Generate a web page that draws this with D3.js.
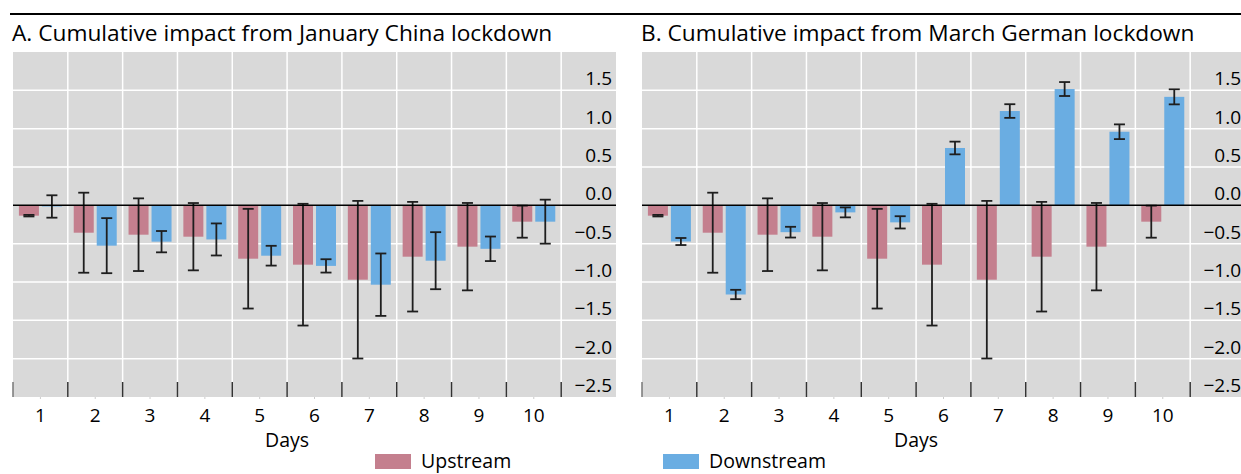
<!DOCTYPE html>
<html>
<head>
<meta charset="utf-8">
<script src="https://cdn.jsdelivr.net/npm/d3@7"></script>
<style>
  html, body { margin: 0; padding: 0; background: #fff; }
  svg { display: block; font-family: "Open Sans", "Noto Sans", sans-serif; }
</style>
</head>
<body>
<svg id="chart" width="1241" height="474"></svg>
<script>
// Days after the lockdown
const days = ["1", "2", "3", "4", "5", "6", "7", "8", "9", "10"];
const yTicks = [1.5, 1.0, 0.5, 0.0, -0.5, -1.0, -1.5, -2.0, -2.5];
const seriesNames = ["Upstream", "Downstream"];

// Panel A: January China lockdown (point estimate and half-width of the interval)
const chinaUpstream      = [-0.135, -0.357, -0.383, -0.409, -0.696, -0.774, -0.970, -0.670, -0.539, -0.213];
const chinaUpstreamErr   = [0.010, 0.522, 0.474, 0.439, 0.650, 0.794, 1.028, 0.715, 0.570, 0.209];
const chinaDownstream    = [-0.015, -0.526, -0.474, -0.445, -0.657, -0.790, -1.035, -0.722, -0.567, -0.213];
const chinaDownstreamErr = [0.146, 0.359, 0.139, 0.209, 0.129, 0.087, 0.407, 0.372, 0.160, 0.287];

// Panel B: March German lockdown
const germanUpstream      = [-0.135, -0.357, -0.383, -0.409, -0.696, -0.774, -0.970, -0.670, -0.539, -0.213];
const germanUpstreamErr   = [0.010, 0.522, 0.474, 0.439, 0.650, 0.794, 1.028, 0.715, 0.570, 0.209];
const germanDownstream    = [-0.472, -1.163, -0.350, -0.092, -0.222, 0.748, 1.230, 1.517, 0.960, 1.415];
const germanDownstreamErr = [0.046, 0.061, 0.070, 0.065, 0.080, 0.083, 0.089, 0.091, 0.096, 0.098];

const colors = { Upstream: "#C47F8E", Downstream: "#6AADE2" };

const svg = d3.select("#chart");

// Rule across the top of the figure
svg.append("line")
  .attr("x1", 10).attr("x2", 1241).attr("y1", 14).attr("y2", 14)
  .attr("stroke", "#000").attr("stroke-width", 2);

const panelTop = 52, panelBottom = 397, panelWidth = 603;

function drawPanel(x0, title, upVals, upErr, downVals, downErr) {
  const g = svg.append("g");
  const x1 = x0 + panelWidth;
  // ten day bands; one more band's width on the right holds the value labels
  const x = d3.scaleBand(days, [x0, x0 + panelWidth * 10 / 11]);
  const sub = d3.scaleBand(seriesNames, [0, x.bandwidth()])
    .paddingInner(0.13).paddingOuter(0.257);
  const y = d3.scaleLinear([-2.5, 2.0], [panelBottom, panelTop]);

  g.append("text")
    .attr("x", x0 - 1).attr("y", 41)
    .attr("font-size", 22.7).attr("fill", "#000")
    .text(title);

  g.append("rect")
    .attr("x", x0).attr("y", panelTop)
    .attr("width", panelWidth).attr("height", panelBottom - panelTop)
    .attr("fill", "#D9D9D9");

  // horizontal grid
  g.append("g").selectAll("line")
    .data(yTicks.filter(t => t > -2.5 && t !== 0))
    .join("line")
    .attr("x1", x0).attr("x2", x1)
    .attr("y1", d => y(d)).attr("y2", d => y(d))
    .attr("stroke", "#fff").attr("stroke-width", 1.5);

  // vertical grid at band boundaries
  const bounds = days.map(d => x(d)).concat([x(days[days.length - 1]) + x.bandwidth()]);
  g.append("g").selectAll("line")
    .data(bounds.slice(1))
    .join("line")
    .attr("x1", d => d).attr("x2", d => d)
    .attr("y1", panelTop).attr("y2", panelBottom)
    .attr("stroke", "#fff").attr("stroke-width", 1.5);

  // bars
  const rows = days.map((d, i) => ({
    day: d,
    vals: [
      { s: "Upstream", v: upVals[i], e: upErr[i] },
      { s: "Downstream", v: downVals[i], e: downErr[i] }
    ]
  }));
  const dayG = g.append("g").selectAll("g")
    .data(rows).join("g")
    .attr("transform", r => `translate(${x(r.day)},0)`);

  dayG.selectAll("rect")
    .data(r => r.vals).join("rect")
    .attr("x", d => sub(d.s))
    .attr("width", sub.bandwidth())
    .attr("y", d => y(Math.max(0, d.v)))
    .attr("height", d => Math.abs(y(d.v) - y(0)))
    .attr("fill", d => colors[d.s]);

  // zero line
  g.append("line")
    .attr("x1", x0).attr("x2", x1)
    .attr("y1", y(0)).attr("y2", y(0))
    .attr("stroke", "#000").attr("stroke-width", 1.5);

  // error bars
  const capW = 11;
  const eb = dayG.selectAll("g.err")
    .data(r => r.vals).join("g").attr("class", "err")
    .attr("stroke", "#1E1E1E").attr("stroke-width", 1.8);
  eb.append("line")
    .attr("x1", d => sub(d.s) + sub.bandwidth() / 2)
    .attr("x2", d => sub(d.s) + sub.bandwidth() / 2)
    .attr("y1", d => y(d.v + d.e)).attr("y2", d => y(d.v - d.e));
  eb.selectAll("line.cap")
    .data(d => [d.v + d.e, d.v - d.e].map(v => ({ s: d.s, v })))
    .join("line").attr("class", "cap")
    .attr("x1", d => sub(d.s) + sub.bandwidth() / 2 - capW / 2)
    .attr("x2", d => sub(d.s) + sub.bandwidth() / 2 + capW / 2)
    .attr("y1", d => y(d.v)).attr("y2", d => y(d.v));

  // bottom tick marks at band boundaries
  g.append("g").selectAll("line")
    .data(bounds)
    .join("line")
    .attr("x1", d => d).attr("x2", d => d)
    .attr("y1", 382).attr("y2", panelBottom)
    .attr("stroke", (d, i) => i === 0 ? "#777" : "#333").attr("stroke-width", 1.5);

  // faint minor ticks under the day centres
  g.append("g").selectAll("line")
    .data(days)
    .join("line")
    .attr("x1", d => x(d) + x.bandwidth() / 2).attr("x2", d => x(d) + x.bandwidth() / 2)
    .attr("y1", panelBottom).attr("y2", panelBottom + 2)
    .attr("stroke", "#ccc").attr("stroke-width", 1);

  // value labels, inside the plot on the right
  const fmt = d3.format(".1f");
  g.append("g").selectAll("text")
    .data(yTicks).join("text")
    .attr("x", x1 - 4)
    .attr("y", d => y(d) - 5)
    .attr("text-anchor", "end")
    .attr("font-size", 19).attr("fill", "#000")
    .text(d => fmt(d).replace("-", "\u2212"));

  // day labels
  g.append("g").selectAll("text")
    .data(days).join("text")
    .attr("x", d => x(d) + x.bandwidth() / 2)
    .attr("y", 422)
    .attr("text-anchor", "middle")
    .attr("font-size", 19).attr("fill", "#000")
    .text(d => d);

  g.append("text")
    .attr("x", x0 + panelWidth * 5 / 11).attr("y", 447)
    .attr("text-anchor", "middle")
    .attr("font-size", 19.5).attr("fill", "#000")
    .text("Days");
}

drawPanel(13, "A. Cumulative impact from January China lockdown",
  chinaUpstream, chinaUpstreamErr, chinaDownstream, chinaDownstreamErr);
drawPanel(642, "B. Cumulative impact from March German lockdown",
  germanUpstream, germanUpstreamErr, germanDownstream, germanDownstreamErr);

// legend
const legendItems = [
  { name: "Upstream", x: 375 },
  { name: "Downstream", x: 663 }
];
const lg = svg.append("g").selectAll("g")
  .data(legendItems).join("g")
  .attr("transform", d => `translate(${d.x},454)`);
lg.append("rect")
  .attr("width", 36).attr("height", 15)
  .attr("fill", d => colors[d.name]);
lg.append("text")
  .attr("x", 46).attr("y", 14)
  .attr("font-size", 19.5).attr("fill", "#000")
  .text(d => d.name);
</script>
</body>
</html>
